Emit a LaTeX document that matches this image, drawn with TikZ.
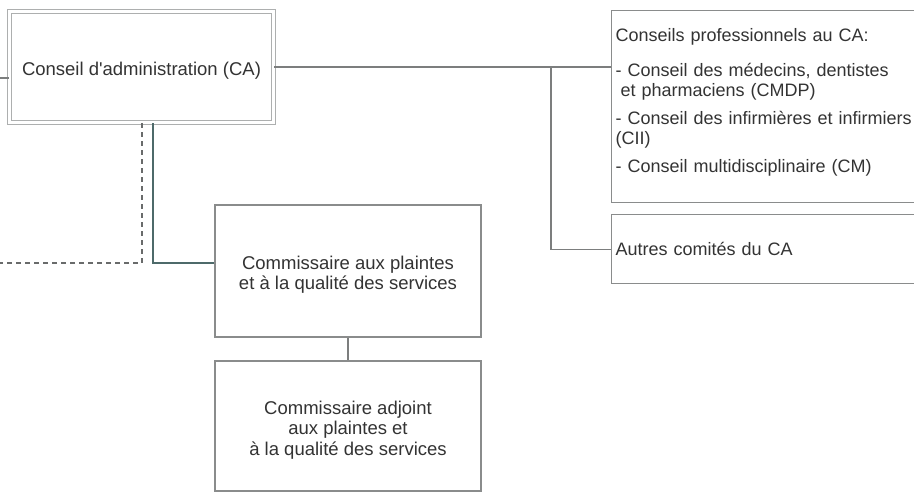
\documentclass[tikz,border=0pt]{standalone}
\usepackage{fontspec}
\setmainfont{Liberation Sans}
\definecolor{boxgray}{HTML}{8A8C8C}
\definecolor{linegray}{HTML}{7C7E7E}
\definecolor{tealline}{HTML}{4E6A6A}
\definecolor{txtgray}{HTML}{333333}
\newcommand{\topstrut}{\rule{0pt}{21pt}}
\tikzset{
  orgbox/.style={draw=boxgray, line width=1.2pt, fill=white, text=txtgray,
    font=\fontsize{18.5}{20.5}\selectfont, align=center, inner sep=0pt},
  cabox/.style={orgbox, draw=boxgray!70, double=white, double distance=3pt, line width=1pt},
  listbox/.style={orgbox, font=\fontsize{18}{20}\selectfont, align=left, anchor=north west,
    text width=310pt, inner xsep=4pt},
  link/.style={draw=linegray, line width=1.2pt},
}
\begin{document}
\begin{tikzpicture}[x=1pt, y=-1pt, line cap=butt, line join=miter]
\useasboundingbox (0,0) rectangle (914,493);
% boites
\node[cabox, minimum width=264pt, minimum height=111pt] (ca) at (141.5,67) {\topstrut Conseil d\textquotesingle administration (CA)};
\node[listbox, minimum height=192pt] (prof) at (611,10) {Conseils professionnels au CA:\\[15pt]
- Conseil des médecins, dentistes\\
\hspace*{5pt}et pharmaciens (CMDP)\\[8pt]
- Conseil des infirmières et infirmiers\\
(CII)\\[8pt]
- Conseil multidisciplinaire (CM)\par\vspace{8pt}};
\node[listbox, minimum height=69pt] (autres) at (611,214) {Autres comités du CA\par\vspace{-4pt}};
\node[orgbox, minimum width=266pt, minimum height=132pt] (cpqs) at (348,271) {\topstrut Commissaire aux plaintes\\et à la qualité des services};
\node[orgbox, minimum width=266pt, minimum height=130pt] (adjoint) at (348,426) {\topstrut Commissaire adjoint\\aux plaintes et\\à la qualité des services};
% points de liaison
\coordinate (tick)  at (0,78);
\coordinate (br)    at (551,68);
\coordinate (knee)  at (153,263);
\coordinate (dknee) at (142,263);
\coordinate (dend)  at (0,263);
% liaisons
\draw[link] (tick) -- (tick -| ca.west);
\draw[link] (ca.east) -- (ca.east -| prof.west);
\draw[link] (br) |- (autres.west);
\draw[link, draw=tealline] (ca.south -| knee) -- (knee) -- (knee -| cpqs.west);
\draw[link, draw=linegray!85!black, dash pattern=on 5pt off 4pt] (ca.south -| dknee) -- (dknee) -- (dend);
\draw[link] (cpqs.south) -- (adjoint.north);
\end{tikzpicture}
\end{document}
